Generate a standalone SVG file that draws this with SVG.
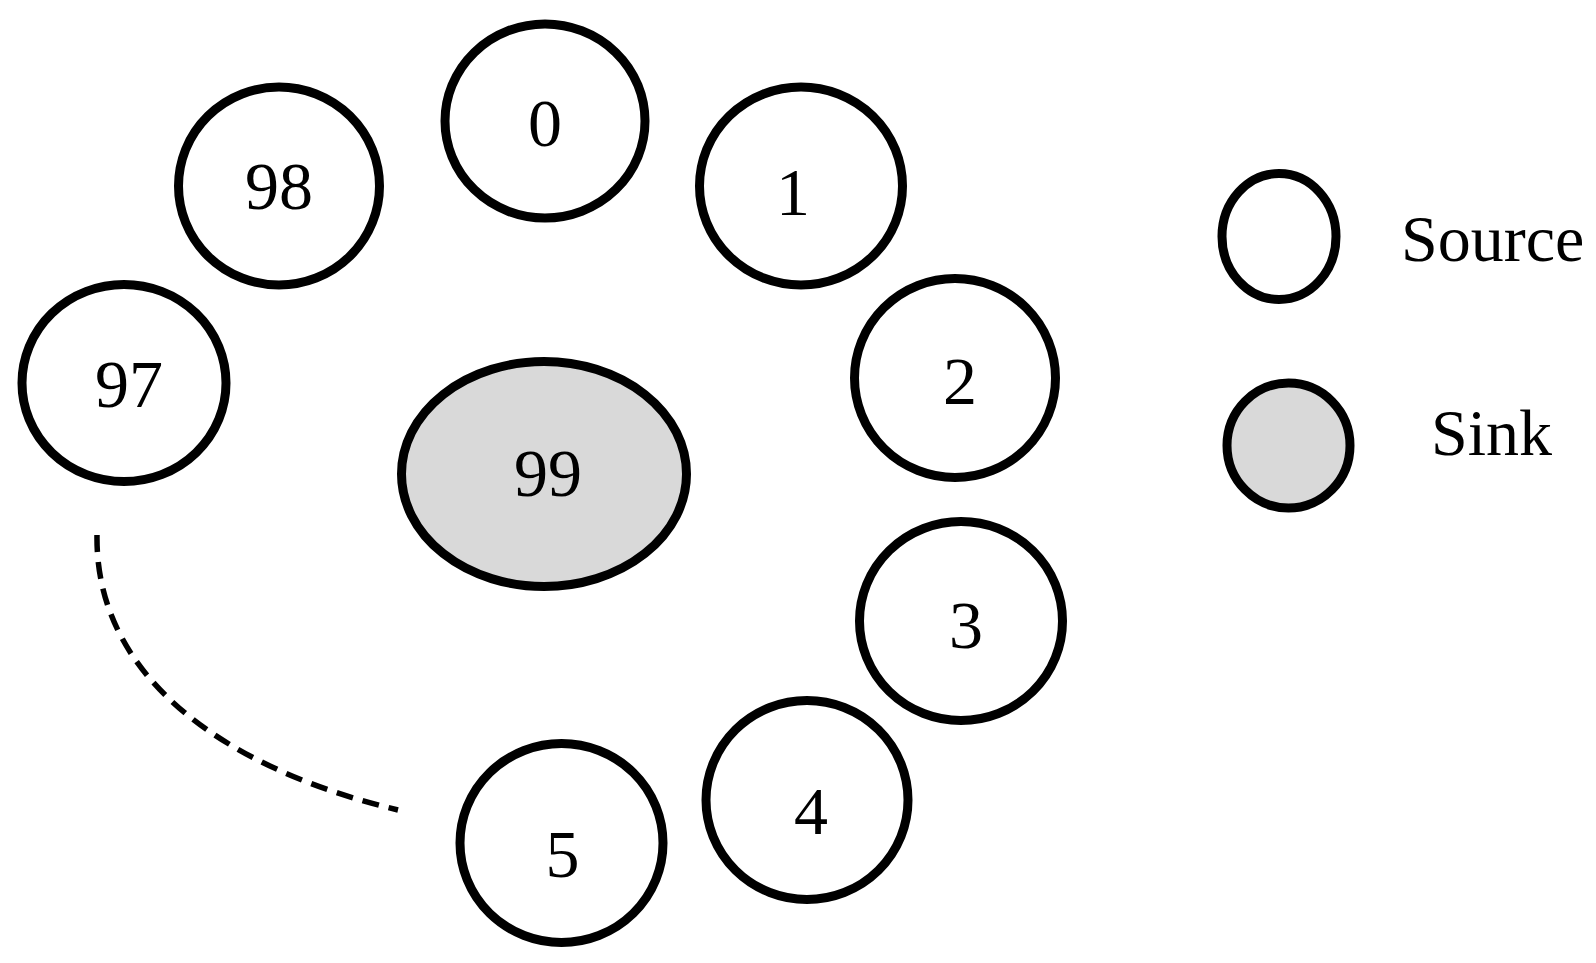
<svg xmlns="http://www.w3.org/2000/svg" width="1596" height="963" viewBox="0 0 1596 963">
<style>
.src{fill:#ffffff;stroke:#000000;stroke-width:9}
.snk{fill:#d9d9d9;stroke:#000000;stroke-width:9}
.lbl{font-family:"Liberation Serif","Times New Roman",serif;font-size:68px;fill:#000000;text-anchor:middle}
.leg{font-family:"Liberation Serif","Times New Roman",serif;font-size:66px;fill:#000000}
.dash{fill:none;stroke:#000000;stroke-width:5.5;stroke-dasharray:17 10}
</style>
<rect width="1596" height="963" fill="#ffffff"/>
<g id="connectors">
<path class="dash" d="M97,535 C95,680 230,770 398,810"/>
</g>
<g id="node-0"><ellipse class="src" cx="545" cy="121" rx="100" ry="97"/><text class="lbl" x="545" y="146">0</text></g>
<g id="node-98"><ellipse class="src" cx="279" cy="186" rx="100.5" ry="99"/><text class="lbl" x="279" y="209">98</text></g>
<g id="node-97"><ellipse class="src" cx="124" cy="383" rx="102" ry="98.5"/><text class="lbl" x="129" y="407">97</text></g>
<g id="node-1"><ellipse class="src" cx="801" cy="186" rx="101.5" ry="99"/><text class="lbl" x="793" y="215">1</text></g>
<g id="node-2"><ellipse class="src" cx="955" cy="378" rx="100.5" ry="99.5"/><text class="lbl" x="960" y="404">2</text></g>
<g id="node-3"><ellipse class="src" cx="961" cy="621" rx="101.5" ry="99.5"/><text class="lbl" x="966" y="648">3</text></g>
<g id="node-4"><ellipse class="src" cx="807" cy="800" rx="101" ry="99.5"/><text class="lbl" x="811" y="834">4</text></g>
<g id="node-5"><ellipse class="src" cx="561.5" cy="843" rx="101.5" ry="99.5"/><text class="lbl" x="562.5" y="877">5</text></g>
<g id="node-99"><ellipse class="snk" cx="544" cy="474" rx="142.5" ry="112.5"/><text class="lbl" x="548" y="496">99</text></g>
<g id="legend-source"><ellipse class="src" cx="1279" cy="236.5" rx="57" ry="63"/><text class="leg" x="1401" y="261">Source</text></g>
<g id="legend-sink"><ellipse class="snk" cx="1288.5" cy="445.5" rx="61.5" ry="62.5"/><text class="leg" x="1431" y="455">Sink</text></g>
</svg>
